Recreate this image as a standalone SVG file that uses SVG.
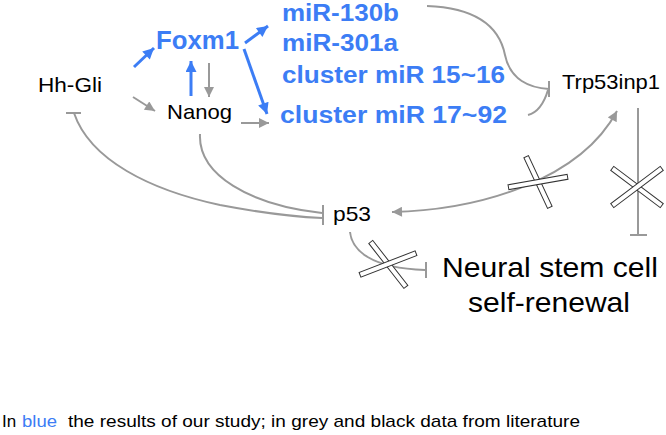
<svg xmlns="http://www.w3.org/2000/svg" width="666" height="435" viewBox="0 0 666 435">
<style>
text{font-family:"Liberation Sans",Arial,sans-serif;}
.blk{fill:#000;font-size:21px;}
.blu{fill:#3c7df5;font-weight:bold;font-size:23px;}
.big{fill:#000;font-size:28px;}
.cap{fill:#000;font-size:17px;}
.ga{fill:none;stroke:#999;stroke-width:2;marker-end:url(#gh);}
.ba{fill:none;stroke:#3c7df5;stroke-width:3;marker-end:url(#bh);}
.gl{fill:none;stroke:#999;stroke-width:2;}
.x rect{fill:#fff;stroke:#333;stroke-width:1;}
</style>
<defs>
<marker id="gh" viewBox="0 0 10 10" refX="10" refY="5" markerWidth="11" markerHeight="10" markerUnits="userSpaceOnUse" orient="auto-start-reverse"><path d="M0,0 L10,5 L0,10 z" fill="#999"/></marker>
<marker id="bh" viewBox="0 0 10 10" refX="10" refY="5" markerWidth="13" markerHeight="11" markerUnits="userSpaceOnUse" orient="auto"><path d="M0,0 L10,5 L0,10 z" fill="#3c7df5"/></marker>
</defs>

<g id="connectors">
<path class="ba" d="M134,67 L154,48"/>
<path class="ba" d="M191,96 L191,61"/>
<path class="ba" d="M245,43 L268,26"/>
<path class="ba" d="M244,49 L267,114"/>
<path class="ga" d="M209,63 L209,97"/>
<path class="ga" d="M133,97 L155,111"/>
<path class="ga" d="M241,123 L269,123"/>
<path class="gl" d="M427,6 C 480,8 500,30 505,55 C 510,80 530,88 549,89"/>
<line class="gl" x1="549" y1="81" x2="549" y2="97"/>
<path class="gl" d="M528,115 C 540,112 545,100 548,90"/>
<line class="gl" x1="66" y1="113" x2="81" y2="113"/>
<path class="gl" d="M74,113 C 90,160 150,190 220,205 C 262,213 300,217 322,218"/>
<path class="gl" d="M200,134 C 198,175 250,205 322,213"/>
<line class="gl" x1="323" y1="205" x2="323" y2="225"/>
<path class="gl" d="M392,212 C 480,210 580,180 617,111" marker-start="url(#gh)" marker-end="url(#gh)"/>
<line class="gl" x1="638" y1="108" x2="638" y2="235"/>
<line class="gl" x1="630" y1="235" x2="647" y2="235"/>
<path class="gl" d="M350,232 C 352,250 370,268 425,270"/>
<line class="gl" x1="426" y1="262" x2="426" y2="278"/>
<g class="x" transform="translate(538,182)">
<rect x="-28" y="-2.5" width="56" height="5" transform="rotate(65)"/>
<rect x="-30" y="-2.5" width="60" height="5" transform="rotate(-10)"/>
</g>
<g class="x" transform="translate(637,187)">
<rect x="-31" y="-2.5" width="62" height="5" transform="rotate(37)"/>
<rect x="-31" y="-2.5" width="62" height="5" transform="rotate(-37)"/>
</g>
<g class="x" transform="translate(388,264)">
<rect x="-28" y="-2.5" width="57" height="5" transform="rotate(52)"/>
<rect x="-30" y="-2.5" width="60" height="5" transform="rotate(-21)"/>
</g>
</g>

<g id="hhgli"><text class="blk" x="38" y="91.5" textLength="64" lengthAdjust="spacingAndGlyphs">Hh-Gli</text></g>
<g id="foxm1"><text class="blu" x="156" y="49" font-size="26" style="font-size:26px" textLength="83" lengthAdjust="spacingAndGlyphs">Foxm1</text></g>
<g id="nanog"><text class="blk" x="167" y="119" textLength="65" lengthAdjust="spacingAndGlyphs">Nanog</text></g>
<g id="mir130b"><text class="blu" x="282" y="21" textLength="117" lengthAdjust="spacingAndGlyphs">miR-130b</text></g>
<g id="mir301a"><text class="blu" x="282" y="51" textLength="116" lengthAdjust="spacingAndGlyphs">miR-301a</text></g>
<g id="mir15"><text class="blu" x="282" y="83" textLength="223" lengthAdjust="spacingAndGlyphs">cluster miR 15~16</text></g>
<g id="mir17"><text class="blu" x="280" y="123" textLength="227" lengthAdjust="spacingAndGlyphs">cluster miR 17~92</text></g>
<g id="trp53inp1"><text class="blk" x="562" y="89" textLength="98" lengthAdjust="spacingAndGlyphs">Trp53inp1</text></g>
<g id="p53"><text class="blk" x="333" y="221" textLength="38" lengthAdjust="spacingAndGlyphs">p53</text></g>
<g id="nsc">
<text class="big" x="442" y="277" textLength="216" lengthAdjust="spacingAndGlyphs">Neural stem cell</text>
<text class="big" x="468" y="312" textLength="162" lengthAdjust="spacingAndGlyphs">self-renewal</text>
</g>
<g id="caption">
<text class="cap" x="2" y="427">In</text>
<text class="cap" x="22" y="427" fill="#3c7df5" style="fill:#3c7df5" textLength="35" lengthAdjust="spacingAndGlyphs">blue</text>
<text class="cap" x="68" y="427" textLength="512" lengthAdjust="spacingAndGlyphs">the results of our study; in grey and black data from literature</text>
</g>
</svg>
